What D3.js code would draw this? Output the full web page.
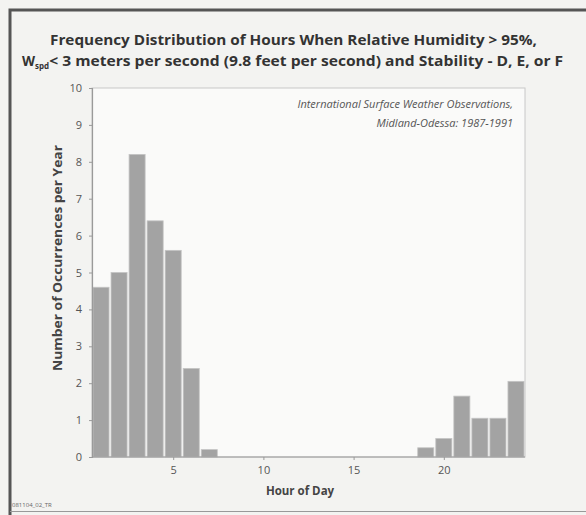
<!DOCTYPE html>
<html><head><meta charset="utf-8">
<script src="https://cdn.jsdelivr.net/npm/d3@7"></script>
<style>body{margin:0;background:#f3f3f1;} svg{display:block;}</style>
</head><body>
<script>
const hours = d3.range(1, 25);
const values = [4.6, 5.0, 8.2, 6.4, 5.6, 2.4, 0.2, 0, 0, 0, 0, 0, 0, 0, 0, 0, 0, 0, 0.25, 0.5, 1.65, 1.05, 1.05, 2.05];
const yTicks = [0,1,2,3,4,5,6,7,8,9,10];
const xTicks = [5,10,15,20];
const titleLines = ["Frequency Distribution of Hours When Relative Humidity > 95%,", "< 3 meters per second (9.8 feet per second) and Stability - D, E, or F"];
const noteLines = ["International Surface Weather Observations,", "Midland-Odessa: 1987-1991"];

const W = 586, H = 515;
const svg = d3.select("body").append("svg").attr("width", W).attr("height", H);
svg.append("rect").attr("width", W).attr("height", H).attr("fill", "#f3f3f1");
// outer frame
svg.append("path").attr("d", "M10,520 L10,10 L600,10").attr("fill","none").attr("stroke","#555").attr("stroke-width",3);
svg.append("line").attr("x1",10).attr("x2",586).attr("y1",511.5).attr("y2",511.5).attr("stroke","#999").attr("stroke-width",1);

const m = {l:92, r:525, t:88, b:457};
const x = d3.scaleLinear().domain([0.5, 24.5]).range([m.l, m.r]);
const y = d3.scaleLinear().domain([0, 10]).range([m.b, m.t]);

// plot background
svg.append("rect").attr("x", m.l).attr("y", m.t).attr("width", m.r-m.l).attr("height", m.b-m.t)
  .attr("fill","#fafaf9").attr("stroke","#c8c8c8").attr("stroke-width",1);

// title
const tf = "'Open Sans', 'Noto Sans', sans-serif";
svg.append("text").attr("x", 50).attr("y", 45).attr("textLength", 487).attr("lengthAdjust","spacingAndGlyphs")
  .attr("font-family", tf).attr("font-weight","bold").attr("font-size", 13.5).attr("fill","#333").text(titleLines[0]);
const t2 = svg.append("text").attr("x", 22).attr("y", 66).attr("font-family", tf).attr("font-weight","bold").attr("font-size", 13.5).attr("fill","#333");
t2.append("tspan").text("W");
t2.append("tspan").attr("font-size", 8).attr("dy", 3).text("spd");
t2.append("tspan").attr("dy", -3).attr("textLength", 514).attr("lengthAdjust","spacingAndGlyphs").text(titleLines[1]);

// bars
svg.append("g").selectAll("rect").data(hours.map((h,i)=>({h, v: values[i]})).filter(d=>d.v>0))
  .join("rect")
  .attr("x", d => x(d.h - 0.5) + 1)
  .attr("width", d => x(d.h + 0.5) - x(d.h - 0.5) - 2)
  .attr("y", d => y(d.v))
  .attr("height", d => y(0) - y(d.v))
  .attr("fill", "#a3a3a3").attr("stroke", "#c4c4c4").attr("stroke-width", 0.8);

// axes
const yAxis = d3.axisLeft(y).tickValues(yTicks).tickSize(3).tickPadding(7);
const gy = svg.append("g").attr("transform", `translate(${m.l},0)`).call(yAxis);
const xAxis = d3.axisBottom(x).tickValues(xTicks).tickSize(3).tickPadding(6);
const gx = svg.append("g").attr("transform", `translate(0,${m.b})`).call(xAxis);
[gy, gx].forEach(g => {
  g.select(".domain").attr("stroke","#9a9a9a").attr("stroke-width",1.2);
  g.selectAll(".tick line").attr("stroke","#9a9a9a");
  g.selectAll("text").attr("font-family", "'Open Sans', sans-serif").attr("font-size", 11).attr("fill","#555");
});
gx.select(".domain").attr("d", `M${m.l},0H${m.r}`);

// axis titles
svg.append("text").attr("transform", `translate(62,258) rotate(-90)`).attr("text-anchor","middle")
  .attr("textLength", 226).attr("lengthAdjust","spacingAndGlyphs")
  .attr("font-family", tf).attr("font-weight","bold").attr("font-size", 11.5).attr("fill","#444")
  .text("Number of Occurrences per Year");
svg.append("text").attr("x", 300).attr("y", 495).attr("text-anchor","middle")
  .attr("font-family", tf).attr("font-weight","bold").attr("font-size", 11.5).attr("fill","#444")
  .text("Hour of Day");

// note
noteLines.forEach((t,i) => {
  svg.append("text").attr("x", 513).attr("y", 108 + i*19).attr("text-anchor","end")
    .attr("font-family", tf).attr("font-style","italic").attr("font-size", 11).attr("fill","#555").text(t);
});

// footer
svg.append("text").attr("x", 12).attr("y", 507).attr("font-family", tf).attr("font-size", 6).attr("fill","#666").text("081104_02_TR");
</script>
</body></html>
